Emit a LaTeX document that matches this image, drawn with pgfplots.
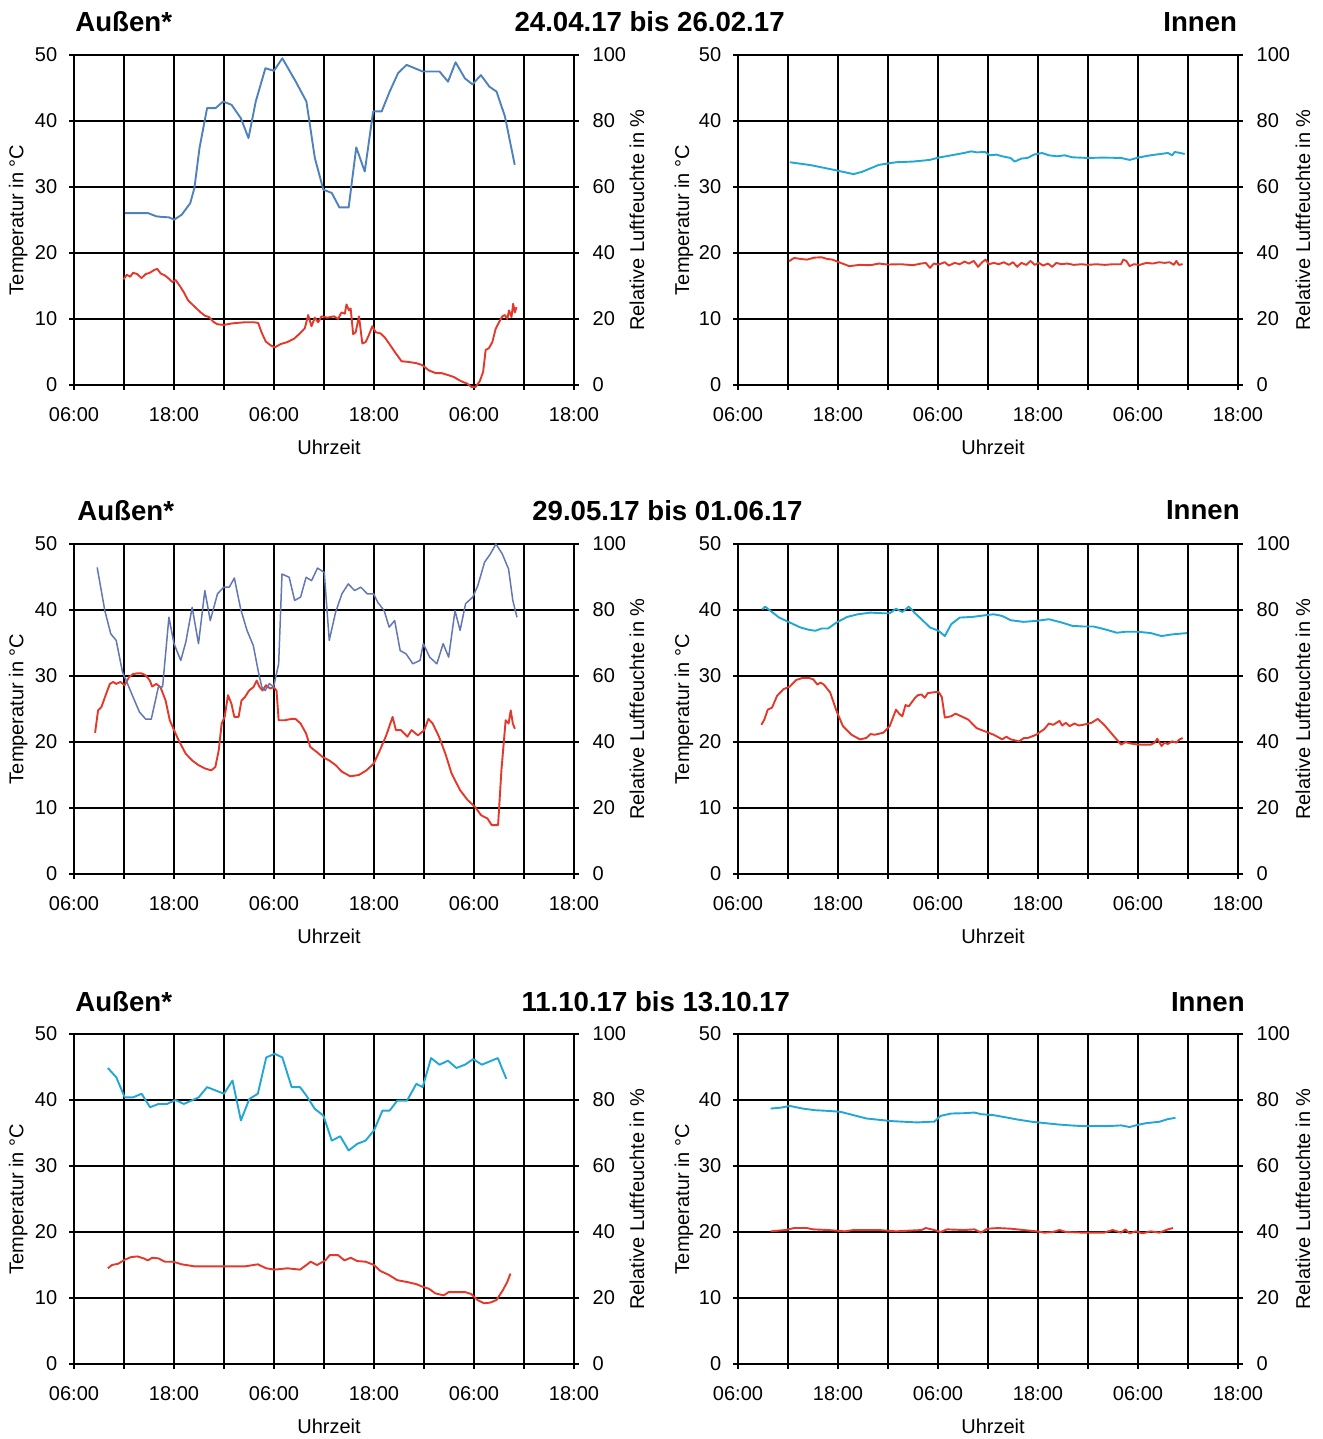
\documentclass[border=0pt]{standalone}
\usepackage{fontspec}
\setmainfont{Liberation Sans}
\usepackage{pgfplots}
\pgfplotsset{compat=1.18}

\definecolor{tempred}{HTML}{E4382A}
\definecolor{humblue}{HTML}{4F81BD}
\definecolor{humslate}{HTML}{6277B4}
\definecolor{humcyan}{HTML}{22A6D6}

% time axis: hours after 06:00 of the first day
\pgfplotsset{
  panel/.style={
    scale only axis, width=250pt, height=165pt, anchor=south west,
    xmin=0, xmax=60,
    font=\fontsize{10}{12}\selectfont,
    /pgf/number format/assume math mode=true,
    tick align=outside, major tick length=2.4pt,
    every tick/.style={black, line width=0.9pt},
    axis line style={-, black, line width=0.9pt},
  },
  tempax/.style={panel,
    ymin=0, ymax=50, ytick={0,10,...,50},
    xtick={0,6,...,60},
    xticklabels={06:00,,18:00,,06:00,,18:00,,06:00,,18:00},
    xtick pos=bottom, ytick pos=left,
    xmajorgrids, ymajorgrids,
    grid style={black, line width=0.9pt},
    xticklabel style={anchor=center, yshift=-12.5pt},
    yticklabel style={anchor=east, xshift=-2.5pt},
    xlabel={Uhrzeit}, ylabel={Temperatur in °C},
    xlabel style={at={(axis description cs:0.51,-0.188)}, anchor=center},
    ylabel style={at={(axis description cs:#1,0.5)}, anchor=center},
    clip=false,
  },
  tempax/.default=-0.1114,
  humax/.style={panel,
    ymin=0, ymax=100, ytick={0,20,...,100},
    axis x line=none, axis y line*=right, ytick pos=right,
    yticklabel style={anchor=west, xshift=3.4pt},
    ylabel={Relative Luftfeuchte in \%},
    ylabel style={at={(axis description cs:#1,0.5)}, anchor=center, rotate=0},
    clip=false,
  },
  humax/.default=1.126,
  tline/.style={tempred, line width=0.95pt, line join=round},
  hline/.style={#1, line width=0.95pt, line join=round},
}

\begin{document}
\begin{tikzpicture}
\path[use as bounding box] (0pt,0pt) rectangle (661pt,719.5pt);

% ---------- 24.04.17 bis 26.02.17 ----------
\node[anchor=west, inner sep=0pt, font=\bfseries\fontsize{13.8}{16}\selectfont] at (37.5pt,708.5pt) {Außen*};
\node[anchor=center, inner sep=0pt, font=\bfseries\fontsize{13.8}{16}\selectfont] at (324.8pt,708.5pt) {24.04.17 bis 26.02.17};
\node[anchor=east, inner sep=0pt, font=\bfseries\fontsize{13.8}{16}\selectfont] at (618.7pt,708.5pt) {Innen};

\begin{axis}[tempax, at={(37pt,527pt)}]
\addplot[tline] coordinates {
(5.93,16.0)(6.34,16.7)(6.74,16.4)(7.1,17.0)(7.6,16.8)(8.1,16.2)(8.6,16.8)(9.1,17.0)(9.6,17.4)(9.99,17.6)
(10.4,16.9)(10.9,16.6)(11.4,16.1)(11.8,15.6)(12.2,15.9)(12.7,15.0)(13.2,14.0)(13.7,12.8)(14.2,12.2)(14.7,11.6)
(15.2,11.0)(15.7,10.5)(16.2,10.3)(16.7,9.6)(17.2,9.2)(18.0,9.1)(18.8,9.3)(19.5,9.4)(20.5,9.5)(21.6,9.5)
(22.1,9.4)(22.5,8.0)(23.0,6.6)(23.6,6.0)(24.1,5.7)(24.8,6.2)(25.6,6.5)(26.4,7.0)(27.1,7.8)(27.7,8.6)
(28.1,10.6)(28.5,8.9)(28.9,10.2)(29.3,9.5)(29.7,10.4)(30.4,10.2)(31.2,10.4)(31.7,10.0)(32.1,11.0)(32.5,10.8)
(32.7,12.2)(33.0,11.3)(33.2,11.6)(33.5,7.7)(33.8,8.0)(34.2,10.4)(34.6,6.3)(35.0,6.5)(35.4,7.6)(35.8,8.9)
(36.2,8.0)(36.8,7.8)(37.3,7.2)(37.8,6.3)(38.5,5.0)(39.3,3.6)(40.1,3.5)(41.1,3.3)(41.8,3.0)(42.6,2.2)
(43.4,1.8)(44.1,1.8)(44.9,1.5)(45.6,1.2)(46.4,0.6)(47.2,0.2)(47.7,-0.3)(48.2,-0.3)(48.7,0.6)(49.1,2.0)
(49.4,5.3)(49.8,5.6)(50.2,6.5)(50.6,8.5)(51.0,9.5)(51.4,10.4)(51.7,10.6)(52.0,10.0)(52.2,11.3)(52.5,10.3)
(52.7,12.3)(52.9,11.0)(53.1,11.8)
};
\end{axis}
\begin{axis}[humax, at={(37pt,527pt)}]
\addplot[hline=humblue] coordinates {
(6.09,52.1)(8.87,52.1)(9.89,51.1)(10.65,50.9)(11.41,50.8)(12.02,50.1)(12.93,51.6)(13.95,55.1)(14.45,59.7)(15.06,71.8)
(15.97,83.9)(16.99,83.9)(17.9,85.9)(18.91,84.9)(20.03,80.8)(20.94,74.8)(21.81,85.9)(22.97,96.0)(23.99,95.2)(25.0,99.0)
(26.62,91.9)(27.89,85.9)(28.9,68.8)(29.92,59.2)(30.93,58.2)(31.85,53.8)(32.96,53.8)(33.87,72.0)(34.89,64.7)(35.9,82.9)
(36.92,82.9)(37.88,88.9)(38.89,94.5)(39.91,97.0)(41.84,95.0)(43.86,95.0)(44.88,91.9)(45.79,97.8)(46.91,92.9)(47.82,91.1)
(48.83,93.9)(49.85,90.4)(50.71,88.9)(51.72,81.3)(52.89,66.7)
};
\end{axis}

\begin{axis}[tempax=-0.108, at={(369pt,527pt)}]
\addplot[tline] coordinates {
(6.12,18.75)(6.73,19.25)(7.5,19.1)(8.26,19.0)(9.2,19.3)(10.04,19.35)(10.7,19.1)(11.31,19.0)(12.33,18.5)(13.35,18.0)
(14.6,18.2)(15.9,18.15)(16.9,18.4)(17.94,18.25)(19.5,18.3)(21.0,18.15)(22.0,18.4)(22.53,18.5)(23.04,17.75)(23.5,18.4)
(24.06,18.25)(24.8,18.6)(25.3,18.1)(26.0,18.5)(26.6,18.3)(27.2,18.7)(27.7,18.4)(28.3,18.8)(28.8,17.9)(29.3,18.6)
(29.7,19.0)(30.1,18.3)(30.7,18.5)(31.3,18.3)(31.9,18.6)(32.5,18.2)(33.0,18.6)(33.5,17.9)(34.0,18.5)(34.6,18.2)
(35.1,18.8)(35.6,18.2)(36.1,18.5)(36.6,18.1)(37.2,18.4)(37.7,17.9)(38.2,18.5)(38.8,18.3)(39.5,18.4)(40.3,18.2)
(41.2,18.3)(42.0,18.2)(43.0,18.3)(44.0,18.2)(45.0,18.3)(45.97,18.3)(46.23,19.0)(46.6,18.8)(46.99,18.0)(47.5,18.3)
(48.2,18.2)(49.0,18.5)(49.8,18.4)(50.5,18.6)(51.2,18.5)(51.8,18.6)(52.3,18.2)(52.6,18.8)(52.9,18.2)(53.36,18.3)
};
\end{axis}
\begin{axis}[humax=1.13, at={(369pt,527pt)}]
\addplot[hline=humcyan] coordinates {
(6.22,67.5)(8.77,66.6)(11.3,65.3)(13.86,63.9)(14.9,64.6)(16.9,66.7)(18.96,67.5)(21.0,67.7)(23.0,68.2)(24.06,68.9)
(25.6,69.6)(27.1,70.3)(28.0,70.8)(28.6,70.5)(29.66,70.6)(30.2,69.6)(31.0,69.8)(31.7,69.3)(32.7,68.8)(33.2,67.7)(34.0,68.6)(34.76,68.8)
(35.5,69.8)(36.5,70.3)(37.3,69.6)(38.3,69.3)(39.2,69.6)(40.1,69.0)(41.9,68.8)(43.9,68.9)(45.97,68.8)(47.0,68.2)(48.0,68.9)(49.5,69.6)(51.6,70.3)
(52.1,69.6)(52.4,70.6)(52.9,70.4)(53.6,70.0)
};
\end{axis}

% ---------- 29.05.17 bis 01.06.17 ----------
\node[anchor=west, inner sep=0pt, font=\bfseries\fontsize{13.8}{16}\selectfont] at (38.5pt,464.35pt) {Außen*};
\node[anchor=center, inner sep=0pt, font=\bfseries\fontsize{13.8}{16}\selectfont] at (333.7pt,464.35pt) {29.05.17 bis 01.06.17};
\node[anchor=east, inner sep=0pt, font=\bfseries\fontsize{13.8}{16}\selectfont] at (620pt,464.35pt) {Innen};

\begin{axis}[tempax, at={(37pt,282.5pt)}]
\addplot[tline] coordinates {
(2.53,21.4)(2.89,24.8)(3.29,25.3)(3.80,27.1)(4.30,28.8)(4.71,29.1)(5.06,28.8)(5.57,29.1)(6.08,28.6)(6.58,29.8)
(7.09,30.3)(7.59,30.4)(8.10,30.4)(8.61,30.1)(9.11,29.3)(9.37,28.4)(9.87,28.8)(10.38,28.3)(10.99,26.3)(11.49,23.3)
(12.0,21.8)(12.66,20.0)(13.42,18.2)(14.18,17.2)(14.94,16.5)(15.70,16.0)(16.46,15.7)(16.96,16.2)(17.37,18.75)(17.72,22.8)
(18.08,23.8)(18.48,27.1)(18.89,25.8)(19.24,23.8)(19.75,23.8)(20.10,26.3)(20.51,26.8)(21.01,27.8)(21.52,28.3)(21.92,29.3)
(22.28,28.3)(22.63,27.8)(23.04,28.6)(23.54,28.1)(23.95,28.3)(24.30,27.8)(24.56,23.3)(25.32,23.3)(26.08,23.5)(26.58,23.5)
(27.19,22.8)(27.85,21.3)(28.35,19.25)(29.11,18.5)(29.87,17.7)(30.63,17.2)(31.39,16.5)(32.15,15.5)(33.16,14.8)(34.18,15.0)
(35.09,15.7)(35.95,16.7)(36.71,18.75)(37.47,21.0)(38.23,23.8)(38.63,21.8)(39.24,21.8)(40.0,20.8)(40.51,21.8)(41.27,21.0)
(42.03,21.8)(42.53,23.5)(43.04,22.8)(43.80,20.8)(44.56,18.25)(45.32,15.2)(46.33,12.7)(47.24,11.2)(48.10,10.2)(48.86,8.9)
(49.62,8.4)(50.13,7.4)(50.89,7.4)(51.29,15.7)(51.80,23.3)(52.15,22.8)(52.41,24.8)(52.66,22.8)(52.91,22.0)
};
\end{axis}
\begin{axis}[humax, at={(37pt,282.5pt)}]
\addplot[hline=humslate, line width=0.75pt] coordinates {
(2.78,92.9)(3.70,79.8)(4.41,72.8)(5.06,70.8)(5.82,61.2)(6.58,56.7)(7.09,53.6)(7.85,49.1)(8.61,46.9)(9.27,46.9)
(10.13,56.7)(10.63,56.7)(11.39,77.8)(12.0,69.8)(12.81,64.7)(13.42,70.3)(14.18,80.8)(14.94,69.8)(15.7,85.9)(16.35,76.8)
(17.22,84.9)(17.97,86.9)(18.63,86.9)(19.24,89.7)(20.0,80.3)(20.76,73.8)(21.52,69.2)(22.13,61.2)(22.53,56.7)(22.94,55.6)
(23.44,57.7)(23.95,56.7)(24.56,63.7)(24.96,90.9)(25.82,89.9)(26.48,82.9)(27.19,83.9)(27.85,89.9)(28.51,88.9)(29.22,92.7)
(30.03,91.4)(30.63,70.8)(31.39,79.3)(32.15,84.9)(32.91,87.9)(33.67,85.9)(34.43,86.9)(35.19,84.9)(35.95,84.9)(36.46,82.3)
(37.22,79.8)(37.82,74.8)(38.48,76.8)(39.14,67.7)(39.85,66.7)(40.66,63.7)(41.52,64.7)(41.92,69.8)(42.68,65.7)(43.54,63.7)
(44.3,69.8)(44.96,65.7)(45.72,79.8)(46.33,73.8)(46.99,81.9)(47.85,83.9)(48.46,87.4)(49.27,94.5)(49.97,97.0)(50.63,100)
(51.39,97.0)(52.15,92.4)(52.66,82.9)(53.16,77.8)
};
\end{axis}

\begin{axis}[tempax=-0.108, at={(369pt,282.5pt)}]
\addplot[tline] coordinates {
(2.80,22.6)(3.16,23.4)(3.57,24.9)(4.08,25.2)(4.69,27.0)(5.45,28.0)(6.22,28.4)(6.98,29.4)(7.75,29.7)(8.51,29.7)
(9.02,29.5)(9.53,28.7)(9.9,29.0)(10.30,28.7)(11.06,27.5)(11.82,24.7)(12.59,22.4)(13.61,21.1)(14.63,20.4)(15.39,20.6)(15.9,21.2)(16.41,21.1)
(17.43,21.4)(18.20,22.4)(18.96,24.9)(19.4,24.2)(19.72,23.9)(20.1,25.6)(20.49,25.4)(21.25,26.7)(21.6,27.1)(22.02,27.2)(22.4,26.7)(22.78,27.4)(23.29,27.5)(24.06,27.6)
(24.46,26.8)(24.82,23.7)(25.59,23.9)(26.1,24.3)(26.61,24.0)(27.62,23.4)(28.64,22.1)(29.66,21.6)(30.68,21.1)(31.70,20.4)(32.2,20.8)(32.72,20.4)
(33.74,20.1)(34.3,20.6)(34.76,20.6)(35.78,21.1)(36.80,22.0)(37.3,22.8)(37.82,22.6)(38.58,23.2)(38.9,22.5)(39.35,22.9)(39.8,22.4)(40.37,22.8)(40.9,22.5)(41.39,22.6)(42.41,22.9)
(43.17,23.5)(43.94,22.6)(44.95,21.1)(45.97,19.6)(46.5,20.0)(46.99,19.8)(48.01,19.6)(49.54,19.6)(50.0,19.9)(50.31,20.5)(50.82,19.4)(51.2,19.9)(51.58,19.7)
(52.1,20.1)(52.60,19.9)(53.0,20.4)(53.36,20.6)
};
\end{axis}
\begin{axis}[humax=1.13, at={(369pt,282.5pt)}]
\addplot[hline=humcyan] coordinates {
(2.91,80.2)(3.26,81.0)(3.92,79.7)(4.94,77.7)(6.22,76.2)(7.49,74.7)(8.51,74.0)(9.28,73.7)(10.04,74.4)(10.81,74.4)
(11.82,76.2)(13.10,77.9)(14.37,78.7)(15.90,79.2)(17.43,79.0)(18.20,79.0)(18.96,80.4)(19.72,79.4)(20.49,81.0)(21.25,79.0)
(22.02,77.2)(23.04,74.7)(24.06,73.7)(24.82,72.1)(25.59,75.7)(26.61,77.7)(28.13,77.9)(29.66,78.4)(30.68,78.7)(31.70,78.2)
(32.72,76.9)(34.25,76.4)(35.78,76.7)(37.31,77.2)(38.84,76.2)(40.11,75.2)(41.39,75.0)(42.66,75.0)(43.94,74.2)(45.46,73.1)
(46.48,73.4)(48.01,73.4)(49.54,73.0)(50.82,72.1)(52.09,72.6)(53.87,73.0)
};
\end{axis}

% ---------- 11.10.17 bis 13.10.17 ----------
\node[anchor=west, inner sep=0pt, font=\bfseries\fontsize{13.8}{16}\selectfont] at (37.5pt,218.5pt) {Außen*};
\node[anchor=center, inner sep=0pt, font=\bfseries\fontsize{13.8}{16}\selectfont] at (327.9pt,218.5pt) {11.10.17 bis 13.10.17};
\node[anchor=east, inner sep=0pt, font=\bfseries\fontsize{13.8}{16}\selectfont] at (622.5pt,218.5pt) {Innen};

\begin{axis}[tempax, at={(37pt,37.5pt)}]
\addplot[tline] coordinates {
(4.06,14.5)(4.56,15.0)(5.32,15.2)(6.09,15.8)(6.85,16.2)(7.61,16.3)(8.37,16.0)(8.87,15.7)(9.38,16.1)(10.14,16.0)
(10.90,15.5)(11.92,15.5)(12.93,15.1)(14.45,14.8)(16.48,14.8)(18.51,14.8)(20.54,14.8)(22.06,15.1)(23.07,14.5)(24.09,14.3)
(25.61,14.5)(27.13,14.3)(27.89,15.0)(28.40,15.5)(29.16,15.0)(30.17,15.7)(30.68,16.5)(31.69,16.5)(32.45,15.7)(33.22,16.1)
(33.98,15.6)(34.99,15.5)(36.0,15.0)(36.76,14.1)(37.78,13.5)(38.79,12.7)(40.06,12.4)(41.08,12.1)(41.84,11.7)(42.6,11.4)
(43.36,10.7)(44.37,10.4)(44.98,10.9)(46.15,10.9)(46.91,10.9)(47.67,10.6)(48.43,9.7)(49.19,9.2)(49.95,9.3)(50.71,9.7)
(51.47,11.2)(51.98,12.4)(52.38,13.7)
};
\end{axis}
\begin{axis}[humax, at={(37pt,37.5pt)}]
\addplot[hline=humcyan] coordinates {
(4.06,89.7)(5.07,86.9)(6.09,80.8)(7.10,80.8)(8.11,81.9)(9.13,77.8)(10.14,78.8)(11.16,78.8)(12.17,80.0)(13.18,78.8)
(14.96,80.8)(15.97,83.9)(18.0,81.9)(19.02,85.9)(20.03,73.8)(21.04,80.3)(22.06,81.9)(23.07,92.9)(24.09,94.0)(25.0,92.9)
(26.12,83.9)(27.13,83.9)(27.89,81.3)(28.9,77.3)(29.92,75.3)(30.93,67.7)(31.95,69.0)(32.96,64.7)(33.98,66.7)(34.99,67.7)
(36.0,70.8)(37.02,76.8)(37.88,76.8)(38.79,79.8)(39.96,79.8)(41.08,84.9)(41.84,83.9)(42.85,92.7)(43.86,90.7)(44.88,91.9)
(45.89,89.7)(46.91,90.7)(47.92,92.4)(48.94,90.7)(50.86,92.7)(51.88,86.4)
};
\end{axis}

\begin{axis}[tempax=-0.108, at={(369pt,37.5pt)}]
\addplot[tline] coordinates {
(3.92,20.1)(5.71,20.3)(6.73,20.6)(8.26,20.6)(9.02,20.4)(10.81,20.3)(12.84,20.1)(13.86,20.3)(16.92,20.3)(18.96,20.1)
(22.02,20.3)(22.53,20.6)(23.55,20.3)(24.31,20.0)(25.08,20.4)(27.12,20.3)(28.39,20.4)(29.15,19.9)(29.92,20.5)(31.19,20.6)
(32.72,20.5)(34.25,20.3)(35.78,20.1)(36.80,19.9)(37.82,20.0)(38.58,20.3)(39.35,20.0)(41.39,19.9)(43.94,19.9)(44.95,20.3)
(45.97,19.9)(46.48,20.4)(46.99,19.8)(47.76,20.1)(48.52,19.8)(49.54,20.1)(50.56,19.9)(51.58,20.4)(52.19,20.6)
};
\end{axis}
\begin{axis}[humax=1.13, at={(369pt,37.5pt)}]
\addplot[hline=humcyan] coordinates {
(3.92,77.4)(5.20,77.7)(6.22,78.2)(7.75,77.4)(9.28,76.9)(10.81,76.7)(12.33,76.4)(13.86,75.4)(15.39,74.4)(16.92,74.0)
(18.45,73.6)(19.98,73.4)(21.51,73.2)(23.04,73.4)(23.55,73.4)(24.31,75.2)(25.59,75.9)(27.12,76.0)(28.39,76.2)(29.15,75.7)
(30.68,75.4)(32.21,74.7)(33.74,74.0)(35.27,73.4)(36.80,73.0)(38.33,72.6)(39.86,72.3)(41.39,72.1)(42.92,72.1)(44.44,72.1)
(45.97,72.3)(46.99,71.8)(48.01,72.5)(49.03,73.0)(50.56,73.4)(51.58,74.2)(52.50,74.6)
};
\end{axis}
\end{tikzpicture}
\end{document}
